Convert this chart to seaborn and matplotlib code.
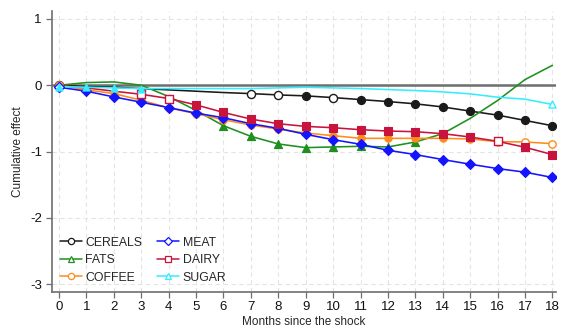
import numpy as np
import pandas as pd
import matplotlib
matplotlib.use("Agg")
import matplotlib.pyplot as plt
import seaborn as sns
from matplotlib.lines import Line2D

months = list(range(19))
series_names = ["CEREALS", "FATS", "COFFEE", "MEAT", "DAIRY", "SUGAR"]

cereals = [0, -0.02, -0.03, -0.05, -0.07, -0.09, -0.11, -0.126, -0.146, -0.16, -0.186, -0.216, -0.246, -0.28, -0.327, -0.39, -0.45, -0.53, -0.61]
fats = [0, 0.04, 0.05, 0.0, -0.17, -0.38, -0.61, -0.77, -0.885, -0.94, -0.93, -0.92, -0.93, -0.855, -0.73, -0.5, -0.23, 0.085, 0.30]
coffee = [0, -0.07, -0.126, -0.226, -0.34, -0.43, -0.52, -0.6, -0.66, -0.72, -0.76, -0.80, -0.80, -0.80, -0.80, -0.81, -0.85, -0.855, -0.88]
meat = [-0.03, -0.09, -0.176, -0.256, -0.337, -0.42, -0.49, -0.58, -0.65, -0.74, -0.82, -0.89, -0.98, -1.045, -1.12, -1.19, -1.256, -1.31, -1.39]
dairy = [0, -0.04, -0.09, -0.136, -0.2, -0.296, -0.41, -0.51, -0.58, -0.62, -0.64, -0.67, -0.69, -0.70, -0.73, -0.78, -0.845, -0.935, -1.045]
sugar = [-0.02, -0.03, -0.04, -0.05, -0.05, -0.05, -0.05, -0.05, -0.04, -0.03, -0.04, -0.05, -0.065, -0.08, -0.10, -0.13, -0.18, -0.21, -0.29]

# significance flags: 1 = significant (filled marker), 0 = not significant (hollow), None = no marker shown
cereals_sig = [0, None, None, None, None, None, None, 0, 0, 1, 0, 1, 1, 1, 1, 1, 1, 1, 1]
fats_sig = [None, None, None, None, None, 1, 1, 1, 1, 1, 1, 1, 1, 1, None, None, None, None, None]
coffee_sig = [0, None, 1, 1, 1, 1, 1, 1, 1, 1, 1, 1, 1, 1, 1, 1, 0, 0, 0]
meat_sig = [0, 1, 1, 1, 1, 1, 1, 1, 1, 1, 1, 1, 1, 1, 1, 1, 1, 1, 1]
dairy_sig = [None, None, None, 0, 0, 1, 1, 1, 1, 1, 1, 1, 1, 1, 1, 1, 0, 1, 1]
sugar_sig = [1, 1, 1, 1, None, None, None, None, None, None, None, None, None, None, None, None, None, None, 0]

x_ticks = list(range(19))
y_ticks = [-3, -2, -1, 0, 1]

values = [cereals, fats, coffee, meat, dairy, sugar]
sigs = [cereals_sig, fats_sig, coffee_sig, meat_sig, dairy_sig, sugar_sig]

rows = []
for name, vals, sg in zip(series_names, values, sigs):
    for m, v, s in zip(months, vals, sg):
        rows.append({"month": m, "effect": v, "series": name, "sig": s})
df = pd.DataFrame(rows)

colors = {"CEREALS": "#1a1a1a", "FATS": "#1f8f1f", "COFFEE": "#ff8c1a",
          "MEAT": "#1414ff", "DAIRY": "#c8143c", "SUGAR": "#33eeff"}
markers = {"CEREALS": "o", "FATS": "^", "COFFEE": "o", "MEAT": "D", "DAIRY": "s", "SUGAR": "^"}
msize = {"CEREALS": 34, "FATS": 34, "COFFEE": 28, "MEAT": 26, "DAIRY": 30, "SUGAR": 26}

sns.set_theme(style="white")
plt.rcParams["font.family"] = ["Liberation Sans", "DejaVu Sans"]
plt.rcParams["axes.unicode_minus"] = False

fig = plt.figure(figsize=(5.61, 3.31), dpi=100)
ax = fig.add_axes([0.092, 0.119, 0.899, 0.848])

for t in x_ticks:
    ax.axvline(t, color="#e4e4e4", lw=0.8, ls=(0, (4, 3)), zorder=0)
for t in y_ticks:
    ax.axhline(t, color="#e4e4e4", lw=0.8, ls=(0, (4, 3)), zorder=0)
ax.axhline(0, color="#6e6e6e", lw=1.8, zorder=1.5)

sns.lineplot(data=df, x="month", y="effect", hue="series", palette=colors,
             hue_order=series_names, lw=1.15, legend=False, ax=ax, zorder=2)

for name in series_names:
    sub = df[df["series"] == name]
    filled = sub[sub["sig"] == 1]
    hollow = sub[sub["sig"] == 0]
    if len(filled):
        sns.scatterplot(data=filled, x="month", y="effect", color=colors[name],
                        marker=markers[name], s=msize[name], edgecolor=colors[name],
                        linewidth=0.8, legend=False, ax=ax, zorder=3)
    if len(hollow):
        sns.scatterplot(data=hollow, x="month", y="effect", color="white",
                        marker=markers[name], s=msize[name], edgecolor=colors[name],
                        linewidth=1.0, legend=False, ax=ax, zorder=3)

ax.set_xlim(-0.27, 18.13)
ax.set_ylim(-3.11, 1.12)
ax.set_xticks(x_ticks)
ax.set_yticks(y_ticks)
ax.set_xticklabels([str(t) for t in x_ticks], fontsize=9.5)
ax.set_yticklabels([str(t) for t in y_ticks], fontsize=9.5)
ax.set_xlabel("Months since the shock", fontsize=8.5, labelpad=2)
ax.set_ylabel("Cumulative effect", fontsize=8.5, labelpad=4)

for side in ["top", "right"]:
    ax.spines[side].set_visible(False)
for side in ["left", "bottom"]:
    ax.spines[side].set_color("#6e6e6e")
    ax.spines[side].set_linewidth(1.2)
ax.tick_params(axis="both", direction="out", length=4, width=0.9, color="#6e6e6e",
               pad=3, labelcolor="#111111", bottom=True, left=True)

handles = []
for name in series_names:
    handles.append(Line2D([0], [0], color=colors[name], lw=1.1, marker=markers[name],
                          markersize=4.5, markerfacecolor="white",
                          markeredgecolor=colors[name], markeredgewidth=0.9))
leg = ax.legend(handles, series_names, ncol=2, loc="lower left",
                bbox_to_anchor=(0.0, 0.0), frameon=False, fontsize=8.8,
                handlelength=1.8, handletextpad=0.3, columnspacing=1.2,
                labelspacing=0.45, borderaxespad=0.25)

fig.savefig("out.png", dpi=100)
